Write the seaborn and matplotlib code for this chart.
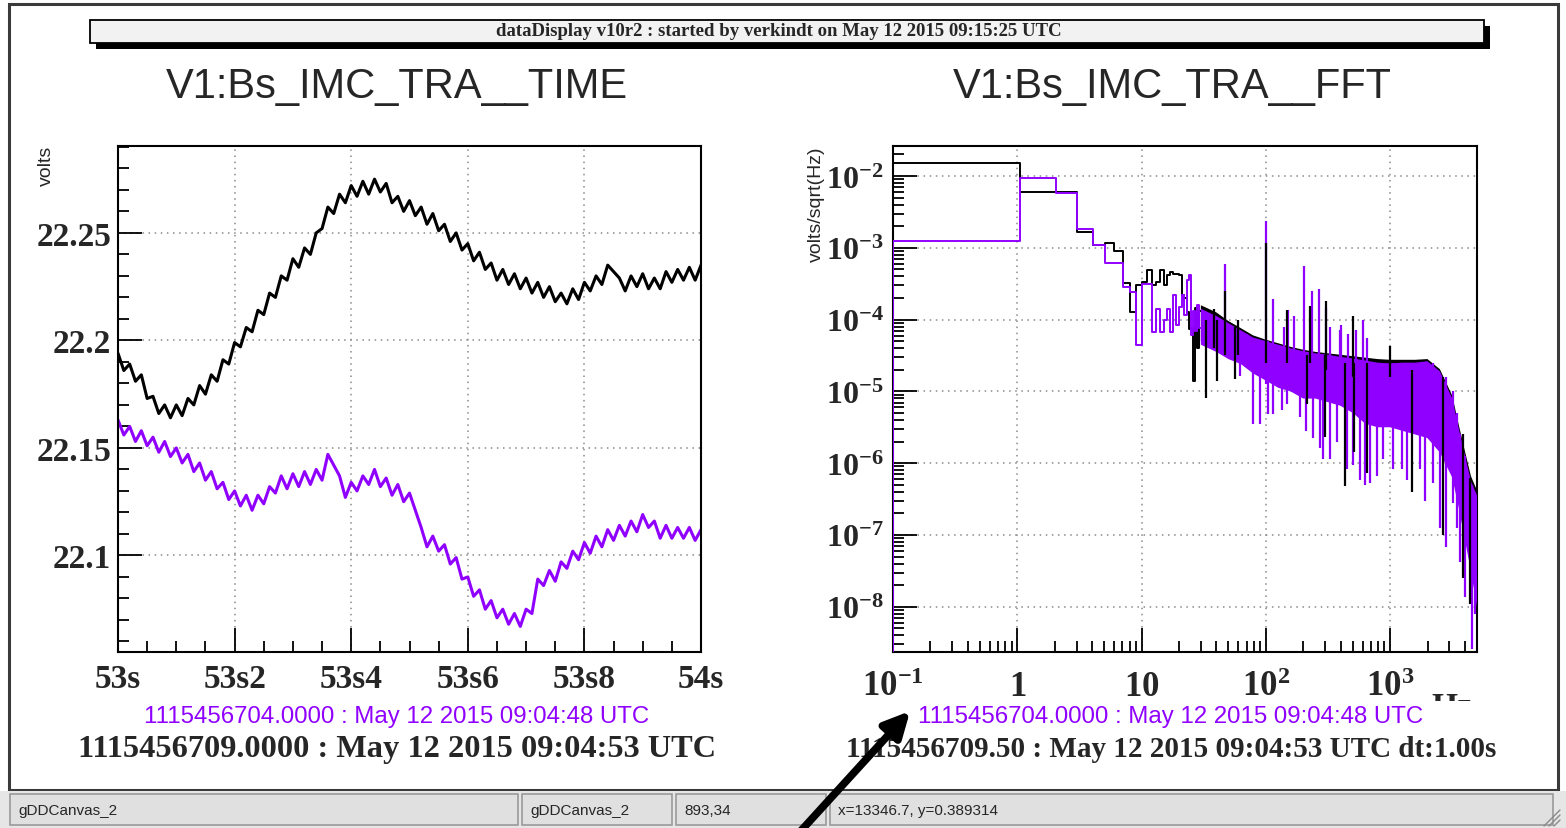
import numpy as np
import pandas as pd
import matplotlib
matplotlib.use("Agg")
import matplotlib.pyplot as plt
import seaborn as sns
from matplotlib.patches import Rectangle, FancyArrowPatch
from matplotlib.lines import Line2D
from matplotlib.ticker import MultipleLocator, LogLocator, NullFormatter

sns.set_style("white")
plt.rcParams['font.family'] = ['Liberation Sans', 'DejaVu Sans']
plt.rcParams['mathtext.fontset'] = 'custom'
plt.rcParams['mathtext.rm'] = 'Liberation Serif:bold'
plt.rcParams['mathtext.it'] = 'Liberation Serif:bold'
plt.rcParams['mathtext.bf'] = 'Liberation Serif:bold'

PURPLE = '#9000ff'

# ---- time series (volts), one sample every 0.01 s from 53s to 54s ----
black_volts = [
    22.194, 22.186, 22.189, 22.181, 22.184, 22.173, 22.174, 22.166, 22.170, 22.164,
    22.170, 22.165, 22.173, 22.170, 22.179, 22.175, 22.184, 22.181, 22.191, 22.189,
    22.199, 22.197, 22.206, 22.204, 22.214, 22.212, 22.222, 22.220, 22.230, 22.228,
    22.238, 22.234, 22.243, 22.240, 22.250, 22.252, 22.262, 22.259, 22.268, 22.264,
    22.272, 22.267, 22.274, 22.268, 22.275, 22.269, 22.273, 22.264, 22.267, 22.260,
    22.265, 22.258, 22.262, 22.254, 22.259, 22.251, 22.254, 22.246, 22.250, 22.242,
    22.245, 22.237, 22.241, 22.233, 22.236, 22.228, 22.233, 22.226, 22.231, 22.224,
    22.229, 22.222, 22.227, 22.220, 22.225, 22.218, 22.222, 22.217, 22.224, 22.219,
    22.227, 22.223, 22.230, 22.226, 22.235, 22.232, 22.229, 22.223, 22.230, 22.225,
    22.231, 22.224, 22.229, 22.224, 22.232, 22.227, 22.233, 22.228, 22.234, 22.228,
    22.235]
purple_volts = [
    22.163, 22.156, 22.160, 22.153, 22.158, 22.151, 22.155, 22.148, 22.153, 22.146,
    22.150, 22.143, 22.147, 22.139, 22.143, 22.135, 22.139, 22.131, 22.134, 22.126,
    22.130, 22.123, 22.128, 22.121, 22.128, 22.124, 22.132, 22.129, 22.137, 22.131,
    22.138, 22.132, 22.139, 22.133, 22.140, 22.135, 22.147, 22.142, 22.137, 22.127,
    22.134, 22.130, 22.137, 22.133, 22.140, 22.132, 22.136, 22.128, 22.133, 22.125,
    22.129, 22.121, 22.113, 22.104, 22.109, 22.102, 22.105, 22.096, 22.099, 22.089,
    22.090, 22.081, 22.084, 22.075, 22.079, 22.071, 22.075, 22.068, 22.073, 22.067,
    22.075, 22.073, 22.089, 22.086, 22.093, 22.088, 22.097, 22.094, 22.102, 22.098,
    22.106, 22.101, 22.109, 22.104, 22.112, 22.107, 22.114, 22.109, 22.116, 22.111,
    22.119, 22.113, 22.116, 22.108, 22.114, 22.108, 22.113, 22.108, 22.113, 22.107,
    22.112]
time_tick_values = [53.0, 53.2, 53.4, 53.6, 53.8, 54.0]
time_tick_labels = ['53s', '53s2', '53s4', '53s6', '53s8', '54s']
volt_tick_values = [22.1, 22.15, 22.2, 22.25]
volt_tick_labels = ['22.1', '22.15', '22.2', '22.25']

# ---- spectrum: 1 Hz bins below 30 Hz (log10 of volts/sqrt(Hz)) ----
black_bins_log = [-1.813, -2.224, -2.224, -2.785, -2.967, -2.935, -3.05, -3.486, -3.893, -3.519,
                  -3.481, -3.308, -3.519, -3.472, -3.308, -3.519, -3.379, -3.332, -3.369, -3.369,
                  -3.38, -3.66, -3.70, -3.89, -4.13, -4.12, -4.86, -3.84, -4.40, -3.88]
purple_bins_log = [-2.911, -2.023, -2.243, -2.734, -2.967, -3.206, -3.206, -3.542, -3.621, -4.35,
                   -3.509, -3.509, -4.173, -3.846, -4.17, -4.01, -3.846, -4.173, -3.66, -4.08,
                   -3.82, -3.66, -3.94, -3.449, -3.379, -4.21, -3.88, -4.16, -3.79, -4.12]

# ---- spectrum above 30 Hz: dense band envelope ----
band_freq = [30, 40, 50, 63, 79, 100, 126, 158, 200, 251, 316, 398, 501, 631, 794,
             1000, 1259, 1585, 1995, 2512, 3162, 3548, 3981, 4467, 5000]
purple_hi_log = [-3.85, -3.95, -4.05, -4.15, -4.25, -4.30, -4.35, -4.40, -4.44, -4.47, -4.49, -4.52, -4.54,
                 -4.57, -4.60, -4.61, -4.60, -4.60, -4.58, -4.72, -5.10, -5.50, -5.88, -6.25, -6.45]
purple_lo_log = [-4.35, -4.45, -4.55, -4.62, -4.75, -4.85, -4.95, -5.00, -5.10, -5.10, -5.15, -5.20, -5.30,
                 -5.45, -5.50, -5.50, -5.55, -5.60, -5.65, -5.85, -6.20, -6.60, -7.05, -7.50, -8.00]
black_hi_log = [-3.80, -3.90, -4.02, -4.12, -4.22, -4.28, -4.33, -4.38, -4.42, -4.45, -4.47, -4.49, -4.51,
                -4.53, -4.55, -4.56, -4.56, -4.56, -4.55, -4.69, -5.06, -5.45, -5.82, -6.18, -6.38]
black_lo_log = [-4.30, -4.40, -4.50, -4.55, -4.70, -4.80, -4.90, -4.95, -5.05, -5.05, -5.10, -5.15, -5.25,
                -5.40, -5.45, -5.45, -5.50, -5.55, -5.60, -5.80, -6.15, -6.55, -7.00, -7.45, -7.95]

# single lines sticking out of the band: frequency, log10 top, log10 bottom
purple_spike_freq = [47.3, 100, 115, 141, 150, 170, 202, 233, 270, 305, 328, 395, 400, 460, 535, 600, 650,
                     62, 70, 79, 89, 105, 115, 134, 147, 188, 212, 240, 273, 290, 327, 372, 446, 507,
                     570, 626, 689, 780, 882, 1064, 1240, 1357, 1743, 1900, 2233, 2525, 2840, 3233,
                     3440, 3659, 4000, 4540, 4800]
purple_spike_top = [-3.23, -2.63, -3.72, -4.10, -3.86, -3.95, -3.26, -3.60, -3.57, -3.84, -4.10, -4.15, -4.07,
                    -4.20, -4.15, -4.00, -4.25,
                    -4.2, -4.2, -4.3, -4.3, -4.3, -4.4, -4.4, -4.4, -4.45, -4.45, -4.5, -4.5, -4.5, -4.5,
                    -4.55, -4.55, -4.6, -4.6, -4.6, -4.6, -4.6, -4.6, -4.6, -4.6, -4.6, -4.6, -4.6, -4.6,
                    -4.8, -4.8, -5.0, -5.3, -5.6, -5.9, -6.3, -6.4]
purple_spike_bot = [-4.30, -4.90, -4.60, -4.80, -4.80, -4.80, -4.80, -4.80, -4.90, -4.90, -4.90, -5.00, -5.00,
                    -5.00, -5.00, -5.00, -5.00,
                    -4.78, -4.64, -5.46, -5.46, -5.31, -5.31, -5.26, -5.17, -5.36, -5.55, -5.65, -5.79,
                    -5.94, -5.94, -5.70, -6.08, -6.03, -6.23, -6.30, -6.27, -6.18, -5.94, -6.08, -6.08,
                    -6.23, -6.08, -6.52, -6.27, -6.90, -7.17, -6.56, -6.90, -7.38, -7.86, -8.59, -8.10]
black_spike_freq = [38, 47, 60, 100, 148, 228, 305, 505, 990,
                    32.9, 40.1, 56.5, 215, 298, 433, 510, 650, 1490, 2660, 3860, 4400]
black_spike_top = [-3.85, -3.60, -4.00, -2.93, -3.86, -3.81, -3.74, -3.95, -4.37,
                   -4.0, -4.0, -4.1, -4.5, -4.5, -4.6, -4.6, -4.6, -4.7, -4.8, -5.6, -6.2]
black_spike_bot = [-4.40, -4.50, -4.50, -4.60, -4.60, -4.60, -4.70, -4.80, -4.80,
                   -5.09, -4.85, -4.83, -5.17, -5.63, -6.32, -5.84, -6.13, -6.40, -7.00, -7.60, -7.96]

freq_tick_values = [0.1, 1, 10, 100, 1000]
freq_tick_labels = [r'$10^{-1}$', r'$1$', r'$10$', r'$10^{2}$', r'$10^{3}$']
asd_tick_values = [1e-8, 1e-7, 1e-6, 1e-5, 1e-4, 1e-3, 1e-2]
asd_tick_labels = [r'$10^{-8}$', r'$10^{-7}$', r'$10^{-6}$', r'$10^{-5}$', r'$10^{-4}$', r'$10^{-3}$', r'$10^{-2}$']

W, H = 1566, 829
fig = plt.figure(figsize=(W / 100, H / 100), dpi=100)
fig.patch.set_facecolor('white')


def fx(px):
    return px / W


def fy(py):
    return 1 - py / H


def style_axes(ax):
    for s in ax.spines.values():
        s.set_linewidth(1.5)
        s.set_color('black')
    ax.tick_params(which='both', direction='in', top=False, right=False, left=True, bottom=True,
                   color='black', width=1.3)
    ax.tick_params(which='major', length=17)
    ax.tick_params(which='minor', length=8)
    ax.grid(True, which='major', color='#8a8a8a', linestyle=(0, (1, 3)), linewidth=1.1)
    ax.set_xlabel('')
    ax.set_ylabel('')


# ================= left pad: time series =================
ax1 = fig.add_axes([fx(118), fy(653), 583 / W, 506 / H])
t = 53.0 + 0.01 * np.arange(len(black_volts))
df_t = pd.DataFrame({'t': t, 'black': black_volts, 'purple': purple_volts})
sns.lineplot(data=df_t, x='t', y='black', ax=ax1, color='black', linewidth=2.2,
             estimator=None, sort=False)
sns.lineplot(data=df_t, x='t', y='purple', ax=ax1, color=PURPLE, linewidth=2.2,
             estimator=None, sort=False)
ax1.set_xlim(53.0, 54.0)
ax1.set_ylim(22.0551, 22.2904)
style_axes(ax1)
ax1.set_xticks(time_tick_values)
ax1.set_xticklabels(time_tick_labels, fontfamily='Liberation Serif', fontweight='bold', fontsize=24)
ax1.xaxis.set_minor_locator(MultipleLocator(0.05))
ax1.set_yticks(volt_tick_values)
ax1.set_yticklabels(volt_tick_labels, fontfamily='Liberation Serif', fontweight='bold', fontsize=24)
ax1.yaxis.set_minor_locator(MultipleLocator(0.01))
ax1.tick_params(axis='x', pad=8)
ax1.tick_params(axis='y', pad=5)

# ================= right pad: spectrum =================
ax2 = fig.add_axes([fx(893), fy(653), 584 / W, 506 / H])
ax2.set_xscale('log')
ax2.set_yscale('log')
floor = 1e-10
edges = [0.1] + [k + 0.05 for k in range(1, len(black_bins_log) + 1)]
df_b = pd.DataFrame({'f': [0.1] + edges,
                     'v': [floor] + [10 ** v for v in black_bins_log] + [10 ** black_bins_log[-1]]})
df_p = pd.DataFrame({'f': [0.1] + edges,
                     'v': [floor] + [10 ** v for v in purple_bins_log] + [10 ** purple_bins_log[-1]]})

bf = np.array(band_freq)
ax2.fill_between(bf, 10 ** np.array(black_lo_log), 10 ** np.array(black_hi_log),
                 facecolor='black', edgecolor='none', zorder=2)
sns.lineplot(data=df_b, x='f', y='v', ax=ax2, color='black', linewidth=1.4,
             drawstyle='steps-post', estimator=None, sort=False, zorder=3)
ax2.fill_between(bf, 10 ** np.array(purple_lo_log), 10 ** np.array(purple_hi_log),
                 facecolor=PURPLE, edgecolor='none', zorder=4)
sns.lineplot(data=df_p, x='f', y='v', ax=ax2, color=PURPLE, linewidth=1.4,
             drawstyle='steps-post', estimator=None, sort=False, zorder=5)
ax2.vlines(purple_spike_freq, 10 ** np.array(purple_spike_bot), 10 ** np.array(purple_spike_top),
           color=PURPLE, linewidth=1.6, zorder=6)
ax2.vlines(black_spike_freq, 10 ** np.array(black_spike_bot), 10 ** np.array(black_spike_top),
           color='black', linewidth=1.6, zorder=7)

ax2.set_xlim(0.1, 5000)
ax2.set_ylim(10 ** -8.63, 10 ** -1.582)
style_axes(ax2)
ax2.set_xticks(freq_tick_values)
ax2.set_xticklabels(freq_tick_labels, fontsize=25)
ax2.xaxis.set_minor_locator(LogLocator(base=10, subs=np.arange(2, 10), numticks=20))
ax2.xaxis.set_minor_formatter(NullFormatter())
ax2.set_yticks(asd_tick_values)
ax2.set_yticklabels(asd_tick_labels, fontsize=23)
ax2.yaxis.set_minor_locator(LogLocator(base=10, subs=np.arange(2, 10), numticks=20))
ax2.yaxis.set_minor_formatter(NullFormatter())
ax2.tick_params(axis='x', pad=12)
ax2.tick_params(axis='y', pad=7)

# ================= texts =================
fig.text(fx(397), fy(87), 'V1:Bs_IMC_TRA__TIME', ha='center', va='center', fontsize=30)
fig.text(fx(1172), fy(87), 'V1:Bs_IMC_TRA__FFT', ha='center', va='center', fontsize=30)
fig.text(fx(46), fy(146), 'volts', rotation=90, ha='center', va='top', fontsize=14)
fig.text(fx(816), fy(146), 'volts/sqrt(Hz)', rotation=90, ha='center', va='top', fontsize=14)

fig.text(fx(1452), fy(692), 'Hz', ha='center', va='top', fontsize=24,
         fontfamily='Liberation Serif', fontweight='bold')
fig.add_artist(Rectangle((fx(1425), fy(760)), 70 / W, 58 / H, transform=fig.transFigure,
                         facecolor='white', edgecolor='none', zorder=5))

fig.text(fx(397), fy(717), '1115456704.0000 : May 12 2015 09:04:48 UTC', ha='center', va='center',
         fontsize=17.3, color=PURPLE, zorder=6)
fig.text(fx(397), fy(750), '1115456709.0000 : May 12 2015 09:04:53 UTC', ha='center', va='center',
         fontsize=23.3, fontfamily='Liberation Serif', fontweight='bold', zorder=6)
fig.text(fx(1171), fy(717), '1115456704.0000 : May 12 2015 09:04:48 UTC', ha='center', va='center',
         fontsize=17.3, color=PURPLE, zorder=6)
fig.text(fx(1171), fy(750), '1115456709.50 : May 12 2015 09:04:53 UTC dt:1.00s', ha='center', va='center',
         fontsize=21, fontfamily='Liberation Serif', fontweight='bold', zorder=6)

# header box with shadow
fig.add_artist(Rectangle((fx(96), fy(50)), (1490 - 96) / W, (50 - 27) / H, transform=fig.transFigure,
                         facecolor='black', edgecolor='none', zorder=3))
fig.add_artist(Rectangle((fx(90), fy(44)), (1484 - 90) / W, (44 - 21) / H, transform=fig.transFigure,
                         facecolor='#f2f2f2', edgecolor='black', linewidth=1.3, zorder=4))
fig.text(fx(779), fy(32), 'dataDisplay v10r2 : started by verkindt on May 12 2015 09:15:25 UTC',
         ha='center', va='center', fontsize=13.5, fontfamily='Liberation Serif', fontweight='bold', zorder=5)

# window frame
fig.add_artist(Rectangle((fx(9), fy(791)), (1558 - 9) / W, (791 - 5) / H, transform=fig.transFigure,
                         facecolor='none', edgecolor='#3a3a3a', linewidth=2.2, zorder=2))

# status bar
fig.add_artist(Rectangle((0, 0), 1, (829 - 792) / H, transform=fig.transFigure,
                         facecolor='#e6e6e6', edgecolor='none', zorder=7))
status_boxes = [(10, 518, 'gDDCanvas_2'), (522, 672, 'gDDCanvas_2'), (676, 826, '893,34'),
                (830, 1553, 'x=13346.7, y=0.389314')]
for x0, x1, label in status_boxes:
    fig.add_artist(Rectangle((fx(x0), fy(826)), (x1 - x0) / W, (826 - 795) / H, transform=fig.transFigure,
                             facecolor='#e0e0e0', edgecolor='#9a9a9a', linewidth=1.2, zorder=8))
    fig.text(fx(x0 + 8), fy(811), label, ha='left', va='center', fontsize=11, zorder=9)
for d in (6, 11, 16):
    fig.add_artist(Line2D([fx(1560 - d), fx(1560)], [fy(827), fy(827 - d)], transform=fig.transFigure,
                          color='#8a8a8a', linewidth=1, zorder=9))

# arrow
fig.add_artist(FancyArrowPatch((fx(798), fy(835)), (fx(912), fy(710)), transform=fig.transFigure,
                               arrowstyle='-|>', mutation_scale=38, linewidth=5.5, color='black', zorder=10))

fig.savefig('out.png', dpi=100, facecolor='white')
